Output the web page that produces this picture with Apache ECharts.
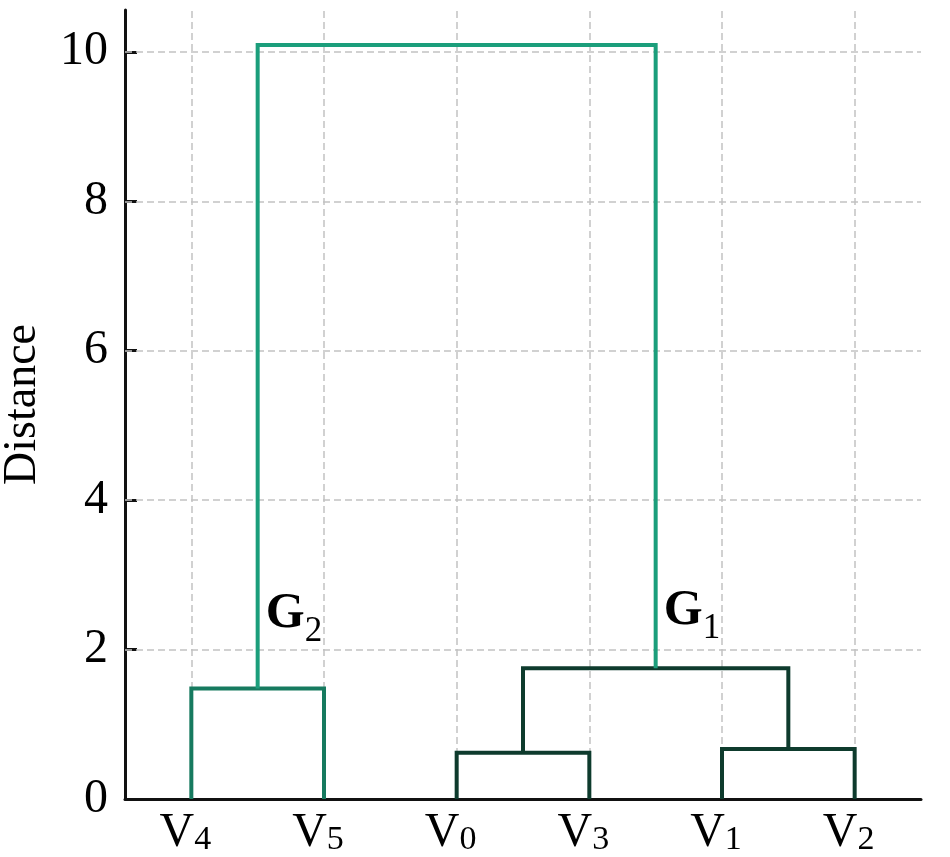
<!DOCTYPE html>
<html>
<head>
<meta charset="utf-8">
<script src="https://cdn.jsdelivr.net/npm/echarts@6/dist/echarts.min.js"></script>
<style>
html, body { margin: 0; padding: 0; background: #fff; }
#main { width: 950px; height: 857px; }
</style>
</head>
<body>
<div id="main"></div>
<script>
// leaves, left to right
var leaves = ['V4', 'V5', 'V0', 'V3', 'V1', 'V2'];
// merges (linkage): left child, right child, height
var mergeName = ['G2', 'C2', 'C3', 'G1', 'root'];
var mergeLeft = ['V4', 'V0', 'V1', 'C2', 'G2'];
var mergeRight = ['V5', 'V3', 'V2', 'C3', 'G1'];
var mergeHeight = [1.48, 0.62, 0.67, 1.75, 10.09];
// y axis ticks
var yTicks = [2, 4, 6, 8, 10];
// cluster labels: letter, subscript, anchor merge, label height
var groupLabel = ['G', 'G'];
var groupSub = ['2', '1'];
var groupAt = ['G2', 'G1'];
var groupY = [2.48, 2.52];

var serif = '"Liberation Serif", "DejaVu Serif", serif';
var colorMid = '#167a5f';
var colorDark = '#0e3b2d';
var colorLight = '#1b9e7b';
var mergeColor = [colorMid, colorDark, colorDark, colorDark, colorLight];

// node positions: leaf i sits at 2i+1, merge at mean of children
var nodeX = {}, nodeH = {};
leaves.forEach(function(name, i) {
	nodeX[name] = 2 * i + 1;
	nodeH[name] = 0;
});
for (var i = 0; i < mergeName.length; i++) {
	nodeX[mergeName[i]] = (nodeX[mergeLeft[i]] + nodeX[mergeRight[i]]) / 2;
	nodeH[mergeName[i]] = mergeHeight[i];
}

var series = [];
// grid lines under everything
series.push({
	type: 'line',
	data: [],
	z: 1,
	silent: true,
	markLine: {
		z: 1,
		silent: true,
		symbol: ['none', 'none'],
		label: { show: false },
		lineStyle: { color: '#c2c2c2', type: [7, 4], width: 1.5 },
		data: leaves.map(function(n) { return { xAxis: nodeX[n] }; })
			.concat(yTicks.map(function(v) { return { yAxis: v }; }))
	}
});

for (var j = 0; j < mergeName.length; j++) {
	var a = mergeLeft[j], b = mergeRight[j], h = mergeHeight[j];
	series.push({
		name: mergeName[j],
		type: 'line',
		z: 3,
		showSymbol: false,
		symbol: 'none',
		silent: true,
		clip: false,
		lineStyle: { color: mergeColor[j], width: 4, join: 'miter', cap: 'butt' },
		data: [[nodeX[a], nodeH[a]], [nodeX[a], h], [nodeX[b], h], [nodeX[b], nodeH[b]]]
	});
}

// cluster names: letter and subscript as two labels on the same point
var groupPts = groupAt.map(function(n, k) { return [nodeX[n], groupY[k], groupLabel[k], groupSub[k]]; });
series.push({
	type: 'scatter',
	z: 4,
	symbolSize: 0,
	silent: true,
	itemStyle: { opacity: 1 },
	data: groupPts,
	label: {
		show: true,
		position: 'right',
		distance: 8,
		color: '#000',
		fontFamily: serif,
		fontSize: 50,
		fontWeight: 'bold',
		formatter: function(p) { return p.data[2]; }
	}
});
series.push({
	type: 'scatter',
	z: 4,
	symbolSize: 0,
	silent: true,
	itemStyle: { opacity: 1 },
	data: groupPts,
	label: {
		show: true,
		position: 'right',
		distance: 47,
		offset: [0, 18],
		color: '#000',
		fontFamily: serif,
		fontSize: 35,
		formatter: function(p) { return p.data[3]; }
	}
});

var myChart = echarts.init(document.getElementById('main'));
var option = {
	animation: false,
	grid: { left: 125, right: 29, top: 10, bottom: 58, containLabel: false, outerBoundsMode: 'none' },
	xAxis: {
		type: 'value',
		min: 0,
		max: 12,
		interval: 1,
		axisLine: { show: true, lineStyle: { color: '#111', width: 3 } },
		axisTick: { show: false },
		splitLine: { show: false },
		axisLabel: {
			margin: 10,
			padding: [0, 12, 0, 0],
			formatter: function(v) {
				if (v % 2 !== 1) return '';
				var n = leaves[(v - 1) / 2];
				return '{v|' + n.charAt(0) + '}{s|' + n.slice(1) + '}';
			},
			rich: {
				v: { fontFamily: serif, fontSize: 48, color: '#000', lineHeight: 48, verticalAlign: 'bottom' },
				s: { fontFamily: serif, fontSize: 34, color: '#000', lineHeight: 34, verticalAlign: 'bottom' }
			}
		}
	},
	yAxis: {
		type: 'value',
		min: 0,
		max: 10.56,
		interval: 2,
		name: 'Distance',
		nameLocation: 'middle',
		nameGap: 79,
		nameTextStyle: { fontFamily: serif, fontSize: 46, color: '#000' },
		axisLine: { show: true, lineStyle: { color: '#111', width: 3 } },
		axisTick: { show: true, inside: true, length: 12, lineStyle: { color: '#111', width: 3 } },
		splitLine: { show: false },
		axisLabel: {
			margin: 17,
			showMaxLabel: false,
			fontFamily: serif,
			fontSize: 48,
			color: '#000'
		}
	},
	series: series
};
myChart.setOption(option);
</script>
</body>
</html>
